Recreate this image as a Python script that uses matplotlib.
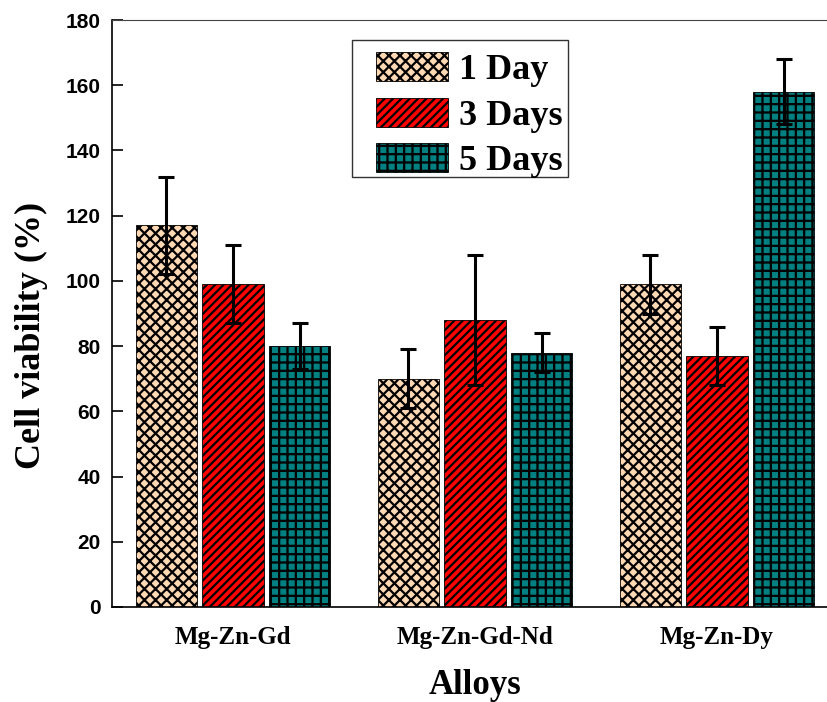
import numpy as np
import matplotlib
matplotlib.use('Agg')
import matplotlib.pyplot as plt
from matplotlib.patches import Rectangle

# cell viability data
alloys = ['Mg-Zn-Gd', 'Mg-Zn-Gd-Nd', 'Mg-Zn-Dy']
days = ['1 Day', '3 Days', '5 Days']
day1 = [117, 70, 99]
day3 = [99, 88, 77]
day5 = [80, 78, 158]
err1 = [15, 9, 9]
err3 = [12, 20, 9]
err5 = [7, 6, 10]

colors = ['#FFD8B4', '#FF0000', '#008080']
hatches = ['xxx', '////', '++']

plt.rcParams['hatch.linewidth'] = 1.6

fig = plt.figure(figsize=(8.27, 7.02), dpi=100)
# axes runs past the right edge of the figure like the original
ax = fig.add_axes([112 / 827, 95 / 702, 726 / 827, 587 / 702])

x = np.arange(len(alloys))
width = 0.255
step = 0.275

for i, (vals, errs) in enumerate(zip([day1, day3, day5], [err1, err3, err5])):
    ax.bar(x + (i - 1) * step, vals, width, color=colors[i], edgecolor='black',
           linewidth=0.6, hatch=hatches[i], label=days[i], zorder=2)
    ax.errorbar(x + (i - 1) * step, vals, yerr=errs, fmt='none', ecolor='black',
                elinewidth=2.2, capsize=6, capthick=2.2, zorder=3)

ax.set_xlim(-0.5, 2.5)
ax.set_ylim(0, 180)
ax.set_yticks(np.arange(0, 181, 20))
ax.set_xticks(x)
ax.set_xticklabels(alloys, fontfamily='Liberation Serif', fontweight='bold', fontsize=18)
for lab in ax.get_yticklabels():
    lab.set_fontfamily('Liberation Sans')
    lab.set_fontweight('bold')
    lab.set_fontsize(15)

ax.tick_params(axis='y', direction='in', length=8, width=1.2, pad=8)
ax.tick_params(axis='x', length=0, pad=14)
ax.spines['top'].set_color('#444444')
ax.spines['left'].set_linewidth(1.2)
ax.spines['bottom'].set_linewidth(1.2)

ax.set_ylabel('Cell viability (%)', fontfamily='Liberation Serif', fontweight='bold', fontsize=26)
ax.yaxis.set_label_coords(-0.088, 0.463)
ax.set_xlabel('Alloys', fontfamily='Liberation Serif', fontweight='bold', fontsize=25, labelpad=14)

# legend without its own frame, box drawn separately behind it
leg = ax.legend(loc='upper left', bbox_to_anchor=(376 / 827, 1 - 52 / 702),
                bbox_transform=fig.transFigure, borderaxespad=0, borderpad=0,
                prop={'family': 'Liberation Serif', 'weight': 'bold', 'size': 26},
                handlelength=2.0, handleheight=0.85, labelspacing=0.3,
                handletextpad=0.3, frameon=False)
leg.set_zorder(5)
ax.add_patch(Rectangle((352 / 827, 1 - 177 / 702), 216 / 827, 137 / 702,
                       transform=fig.transFigure, facecolor='white',
                       edgecolor='#333333', linewidth=1.0, zorder=4))

fig.savefig('out.png', dpi=100)
